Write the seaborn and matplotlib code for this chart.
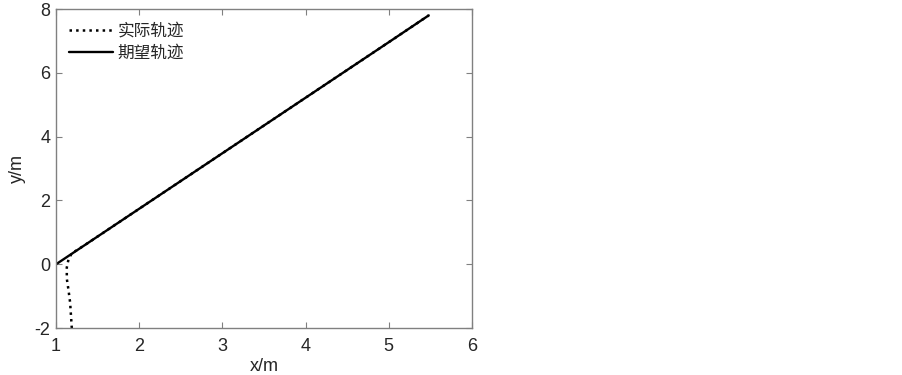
import pandas as pd
import matplotlib
matplotlib.use('Agg')
import matplotlib.pyplot as plt
import seaborn as sns

# 期望轨迹 (直线)
desired_x = [1.00, 1.50, 2.00, 2.50, 3.00, 3.50, 4.00, 4.50, 5.00, 5.48]
desired_y = [0.00, 0.87, 1.74, 2.61, 3.48, 4.35, 5.22, 6.09, 6.96, 7.80]

# 实际轨迹
actual_x = [1.19, 1.18, 1.17, 1.15, 1.13, 1.13, 1.15, 1.19, 1.25, 1.35, 1.50, 2.00, 3.00, 4.00, 5.00, 5.48]
actual_y = [-2.00, -1.60, -1.20, -0.80, -0.45, -0.10, 0.15, 0.35, 0.44, 0.61, 0.87, 1.74, 3.48, 5.22, 6.96, 7.80]

labels = ['实际轨迹', '期望轨迹']

sns.set_style('ticks')
plt.rcParams['font.family'] = ['Liberation Sans', 'Noto Sans CJK SC', 'DejaVu Sans']
plt.rcParams['xtick.direction'] = 'in'
plt.rcParams['ytick.direction'] = 'in'
plt.rcParams['axes.unicode_minus'] = False

df_actual = pd.DataFrame({'x': actual_x, 'y': actual_y})
df_desired = pd.DataFrame({'x': desired_x, 'y': desired_y})

fig = plt.figure(figsize=(9.03, 3.75), dpi=100)
ax = fig.add_axes([0.062, 0.125, 0.4607, 0.851])

sns.lineplot(data=df_actual, x='x', y='y', sort=False, estimator=None, ax=ax,
             color='black', linestyle=':', linewidth=1.8, label=labels[0])
sns.lineplot(data=df_desired, x='x', y='y', sort=False, estimator=None, ax=ax,
             color='black', linewidth=1.7, label=labels[1])

ax.set_xlim(1, 6)
ax.set_ylim(-2, 8)
ax.set_xticks([1, 2, 3, 4, 5, 6])
ax.set_yticks([-2, 0, 2, 4, 6, 8])
ax.set_xlabel('x/m', fontsize=13, labelpad=2)
ax.set_ylabel('y/m', fontsize=13, labelpad=6)
ax.tick_params(labelsize=13, length=4, width=0.8, color='#808080',
               top=True, right=True, pad=4)
ax.tick_params(axis='x', pad=7)

for sp in ax.spines.values():
    sp.set_color('#808080')
    sp.set_linewidth(1.0)

leg = ax.legend(loc='upper left', frameon=False, handlelength=2.6,
                handletextpad=0.3, labelspacing=0.35, borderaxespad=0.4,
                prop={'family': ['Noto Sans CJK SC', 'DejaVu Sans'], 'size': 12})

fig.savefig('out.png', dpi=100)
